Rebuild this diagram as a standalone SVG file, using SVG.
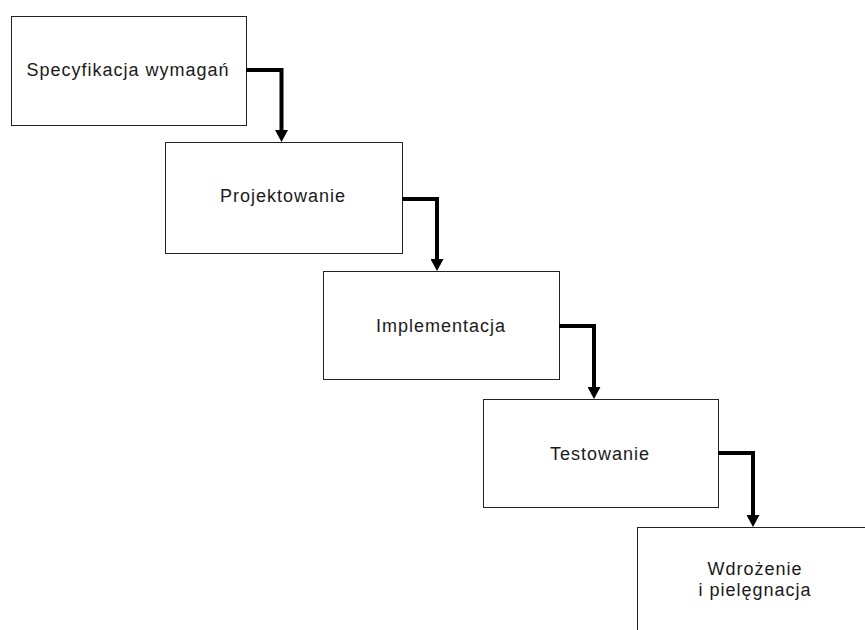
<svg xmlns="http://www.w3.org/2000/svg" width="865" height="630" viewBox="0 0 865 630">
  <style>
    .box { fill: #ffffff; stroke: #222222; stroke-width: 1; }
    .label { font-family: "Liberation Sans", Arial, sans-serif; font-size: 18px; letter-spacing: 1px; fill: #1a1a1a; text-anchor: middle; }
    .flow { fill: none; stroke: #000000; stroke-width: 4; stroke-linejoin: miter; }
  </style>
  <defs>
    <marker id="arrow" viewBox="0 0 12 13" refX="0" refY="6.5" markerWidth="12" markerHeight="13" markerUnits="userSpaceOnUse" orient="auto">
      <path d="M0,0 L12,6.5 L0,13 z" fill="#000000"/>
    </marker>
  </defs>
  <rect width="865" height="630" fill="#ffffff"/>

  <g id="node-specyfikacja">
    <rect class="box" x="11.5" y="16.5" width="235" height="109"/>
    <text class="label" x="128" y="76">Specyfikacja wymagań</text>
  </g>

  <g id="node-projektowanie">
    <rect class="box" x="165.5" y="142.5" width="237" height="111"/>
    <text class="label" x="283" y="202">Projektowanie</text>
  </g>

  <g id="node-implementacja">
    <rect class="box" x="323.5" y="271.5" width="236" height="108"/>
    <text class="label" x="441" y="332">Implementacja</text>
  </g>

  <g id="node-testowanie">
    <rect class="box" x="483.5" y="399.5" width="235" height="108"/>
    <text class="label" x="600" y="460">Testowanie</text>
  </g>

  <g id="node-wdrozenie">
    <rect class="box" x="637.5" y="527.5" width="236" height="110"/>
    <text class="label" x="755" y="575">Wdrożenie</text>
    <text class="label" x="755" y="596">i pielęgnacja</text>
  </g>

  <g id="connectors">
    <path class="flow" d="M246,70 H281.5 V130" marker-end="url(#arrow)"/>
    <path class="flow" d="M402,199 H437 V259" marker-end="url(#arrow)"/>
    <path class="flow" d="M559,326 H594 V387" marker-end="url(#arrow)"/>
    <path class="flow" d="M718,453 H753 V515" marker-end="url(#arrow)"/>
  </g>
</svg>
